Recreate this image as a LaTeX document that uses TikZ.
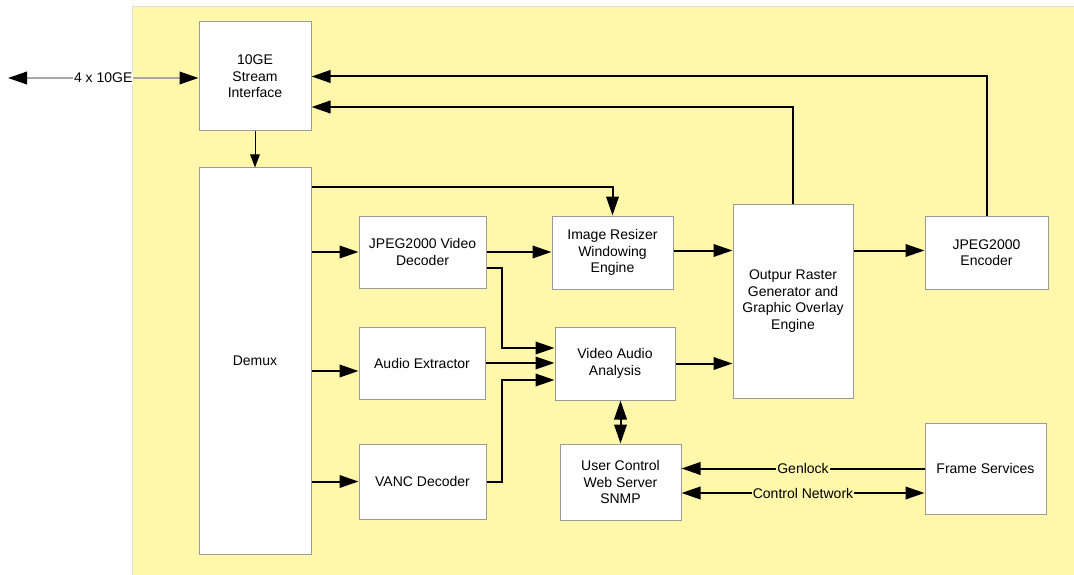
\documentclass[tikz,border=0pt]{standalone}
\usepackage{fontspec}
\setmainfont{Liberation Sans}
\usetikzlibrary{arrows.meta,calc}
\definecolor{bgy}{HTML}{FFF7AA}
\definecolor{bdr}{HTML}{9A9A9A}
\definecolor{extl}{HTML}{A8A8A8}
\begin{document}
\begin{tikzpicture}[x=1pt,y=-1pt,
  box/.style={draw=bdr, fill=white, line width=1pt, align=center, inner sep=2pt,
    font=\fontsize{14}{16.6}\selectfont},
  conn/.style={line width=2pt, -{Triangle[length=19pt,width=12.5pt]}},
  dconn/.style={line width=2pt, {Triangle[length=19pt,width=12.5pt]}-{Triangle[length=19pt,width=12.5pt]}},
  thinarrow/.style={line width=1pt, -{Triangle[length=13pt,width=9.5pt]}},
  lbl/.style={fill=bgy, inner sep=1pt, font=\fontsize{14}{16.6}\selectfont}
]
\useasboundingbox (0,0) rectangle (1074,575);
\fill[bgy] (133,7) rectangle (1074,575);
\draw[gray!25, line width=1pt] (132.5,575) -- (132.5,6.5) -- (1074,6.5);

\node[box, minimum width=112pt, minimum height=109pt] (ge) at (255,76.5) {10GE\\Stream\\Interface};
\node[box, minimum width=112pt, minimum height=386pt] (demux) at (255,361) {Demux};
\node[box, minimum width=127pt, minimum height=72pt] (jdec) at (422.5,252) {JPEG2000 Video\\Decoder};
\node[box, minimum width=126pt, minimum height=72pt] (ae) at (422,363) {Audio Extractor};
\node[box, minimum width=127pt, minimum height=75pt] (vanc) at (422.5,481.5) {VANC Decoder};
\node[box, minimum width=121pt, minimum height=73pt] (irw) at (612.5,252.5) {Image Resizer\\Windowing\\Engine};
\node[box, minimum width=120pt, minimum height=73pt] (vaa) at (615,363.5) {Video Audio\\Analysis};
\node[box, minimum width=120pt, minimum height=194pt] (orge) at (793,301) {Outpur Raster\\Generator and\\Graphic Overlay\\Engine};
\node[box, minimum width=123pt, minimum height=73pt] (enc) at (986.5,252.5) {JPEG2000\\Encoder};
\node[box, minimum width=121pt, minimum height=76pt] (uc) at (620.5,482) {User Control\\Web Server\\SNMP};
\node[box, minimum width=121pt, minimum height=91pt] (fs) at (985.5,468.5) {Frame Services};

\coordinate (ext) at (8,78);
\draw[line width=2pt, extl, {Triangle[length=19pt,width=12.5pt,color=black]}-{Triangle[length=19pt,width=12.5pt,color=black]}]
  (ext) -- (ext -| ge.west) node[midway, fill=white, inner sep=1pt, text=black, font=\fontsize{14}{16.6}\selectfont] {4 x 10GE};

\draw[thinarrow] (ge.south) -- (demux.north);
\draw[conn] ($(demux.north east)+(0,20)$) -| (irw.north);
\draw[conn] (demux.east |- jdec.west) -- (jdec.west);
\draw[conn] ($(demux.east |- ae.west)+(0,8)$) -- ($(ae.west)+(0,8)$);
\draw[conn] (demux.east |- vanc.west) -- (vanc.west);
\draw[conn] (jdec.east) -- (jdec.east -| irw.west);
\draw[conn] ($(jdec.east)+(0,16)$) -- ++(15,0) |- ($(vaa.west)+(0,-15.5)$);
\draw[conn] (ae.east) -- (ae.east -| vaa.west);
\draw[conn] (vanc.east) -- ++(15,0) |- ($(vaa.west)+(0,16.5)$);
\draw[conn] ($(irw.east)+(0,-2)$) -- ($(irw.east -| orge.west)+(0,-2)$);
\draw[conn] (vaa.east) -- (vaa.east -| orge.west);
\draw[conn] ($(enc.west -| orge.east)+(0,-2)$) -- ($(enc.west)+(0,-2)$);
\draw[conn] (orge.north) |- ($(ge.east)+(0,30.5)$);
\draw[conn] (enc.north) |- (ge.east);
\draw[dconn] (uc.north) -- (uc.north |- vaa.south);
\draw[conn] (fs.west) -- (fs.west -| uc.east) node[midway, lbl] {Genlock};
\draw[dconn] ($(uc.east)+(0,11)$) -- ($(uc.east -| fs.west)+(0,11)$) node[midway, lbl] {Control Network};
\end{tikzpicture}
\end{document}
